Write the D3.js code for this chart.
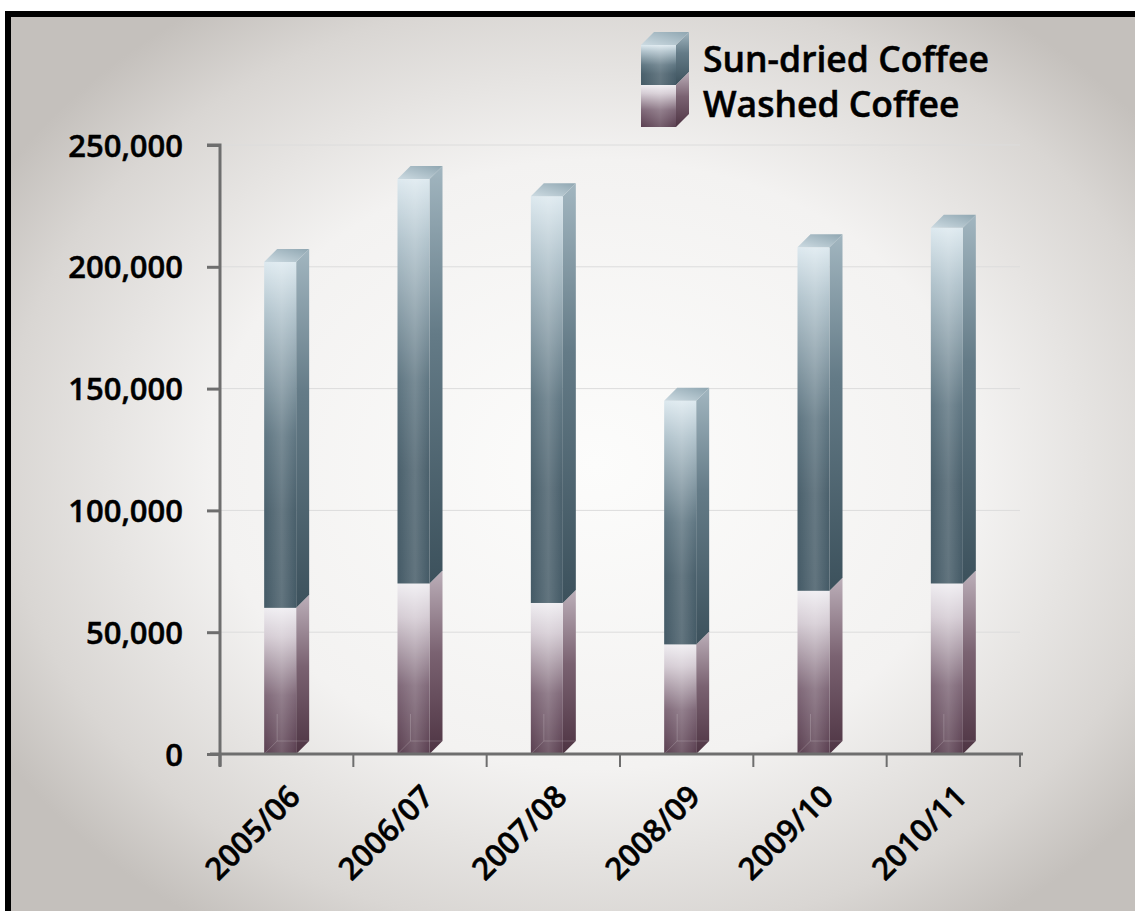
<!DOCTYPE html>
<html>
<head>
<meta charset="utf-8">
<script src="https://cdn.jsdelivr.net/npm/d3@7"></script>
<style>
  html, body { margin: 0; padding: 0; background: #ffffff; }
  svg { display: block; }
  text { font-family: "Open Sans", "Noto Sans", sans-serif; font-weight: 600; fill: #000; stroke: #000; stroke-width: 0.5px; }
</style>
</head>
<body>
<svg id="chart" width="1135" height="911"></svg>
<script>
// Coffee output by season (tonnes)
const seasons = ["2005/06", "2006/07", "2007/08", "2008/09", "2009/10", "2010/11"];
const washed = [60000, 70000, 62000, 45000, 67000, 70000];
const sunDried = [142000, 166000, 167000, 100000, 141000, 146000];
const seriesNames = ["Sun-dried Coffee", "Washed Coffee"];
const yTicks = [0, 50000, 100000, 150000, 200000, 250000];

const W = 1135, H = 911;
const svg = d3.select("#chart");
const defs = svg.append("defs");

// vignette background
const vg = defs.append("radialGradient").attr("id", "vignette")
  .attr("cx", "52%").attr("cy", "50%").attr("r", "62%");
vg.append("stop").attr("offset", "0%").attr("stop-color", "#fcfcfb");
vg.append("stop").attr("offset", "55%").attr("stop-color", "#f3f2f1");
vg.append("stop").attr("offset", "85%").attr("stop-color", "#d9d6d3");
vg.append("stop").attr("offset", "100%").attr("stop-color", "#c4c0bc");

svg.append("rect").attr("width", W).attr("height", H).attr("fill", "#ffffff");
svg.append("rect").attr("x", 11).attr("y", 17).attr("width", W - 11).attr("height", H - 17)
  .attr("fill", "url(#vignette)");
// black frame (top and left edges)
svg.append("rect").attr("x", 5).attr("y", 11).attr("width", W - 5).attr("height", 6).attr("fill", "#000");
svg.append("rect").attr("x", 5).attr("y", 11).attr("width", 6).attr("height", H - 11).attr("fill", "#000");

// gradients for each series: front, side, top
function vGrad(id, stops) {
  const g = defs.append("linearGradient").attr("id", id)
    .attr("x1", 0).attr("y1", 0).attr("x2", 0).attr("y2", 1);
  stops.forEach(s => g.append("stop").attr("offset", s[0]).attr("stop-color", s[1]));
}
vGrad("sunFront", [["0%", "#dde9ef"], ["15%", "#b2c4cd"], ["50%", "#5f7682"], ["72%", "#4a606c"], ["100%", "#445a66"]]);
vGrad("sunSide", [["0%", "#a2b6c0"], ["40%", "#647b87"], ["100%", "#3c515c"]]);
vGrad("washFront", [["0%", "#efedf1"], ["20%", "#d4cbd3"], ["60%", "#7f6878"], ["100%", "#5a3f50"]]);
vGrad("washSide", [["0%", "#bcafb9"], ["45%", "#7a6271"], ["100%", "#4e3443"]]);
const tg = defs.append("linearGradient").attr("id", "topFace")
  .attr("x1", 0).attr("y1", 1).attr("x2", 1).attr("y2", 0);
tg.append("stop").attr("offset", "0%").attr("stop-color", "#cddbe2");
tg.append("stop").attr("offset", "100%").attr("stop-color", "#8fa6b1");
// horizontal sheen over the front face
const sh = defs.append("linearGradient").attr("id", "sheen")
  .attr("x1", 0).attr("y1", 0).attr("x2", 1).attr("y2", 0);
sh.append("stop").attr("offset", "0%").attr("stop-color", "#fff").attr("stop-opacity", 0.0);
sh.append("stop").attr("offset", "55%").attr("stop-color", "#fff").attr("stop-opacity", 0.16);
sh.append("stop").attr("offset", "100%").attr("stop-color", "#fff").attr("stop-opacity", 0.0);

const plotL = 220, plotR = 1020, plotTop = 145, plotBot = 754;
const x = d3.scaleBand().domain(seasons).range([plotL, plotR]);
const y = d3.scaleLinear().domain([0, 250000]).range([plotBot, plotTop]);

const frontW = 32, depth = 13;

// gridlines
svg.append("g").selectAll("line").data(yTicks.filter(d => d > 0)).join("line")
  .attr("x1", plotL).attr("x2", plotR)
  .attr("y1", d => y(d)).attr("y2", d => y(d))
  .attr("stroke", "#dcdcdc").attr("stroke-width", 1);

// y axis
const yAxis = svg.append("g").attr("transform", `translate(${plotL},0)`)
  .call(d3.axisLeft(y).tickValues(yTicks).tickSize(13).tickPadding(24).tickFormat(d3.format(",")));
yAxis.select(".domain").attr("stroke", "#6e6e6e").attr("stroke-width", 3)
  .attr("d", `M-13,${plotTop}H0V${plotBot + 12}`);
yAxis.selectAll(".tick line").attr("stroke", "#6e6e6e").attr("stroke-width", 3);
yAxis.selectAll(".tick text").style("font-size", "31px").attr("fill", "#000").attr("dy", "0.36em");

// bars
const bars = svg.append("g");
seasons.forEach((s, i) => {
  const x0 = x(s) + (x.bandwidth() - frontW - depth) / 2;
  const segs = [
    { lo: 0, hi: washed[i], front: "washFront", side: "washSide" },
    { lo: washed[i], hi: washed[i] + sunDried[i], front: "sunFront", side: "sunSide" }
  ];
  const g = bars.append("g");
  segs.forEach((seg, k) => {
    const yt = y(seg.hi), yb = y(seg.lo);
    // side face
    g.append("path")
      .attr("d", `M${x0 + frontW},${yt}L${x0 + frontW + depth},${yt - depth}L${x0 + frontW + depth},${yb - depth}L${x0 + frontW},${yb}Z`)
      .attr("fill", `url(#${seg.side})`);
    // front face
    g.append("rect").attr("x", x0).attr("y", yt).attr("width", frontW).attr("height", yb - yt)
      .attr("fill", `url(#${seg.front})`);
    g.append("rect").attr("x", x0).attr("y", yt).attr("width", frontW).attr("height", yb - yt)
      .attr("fill", "url(#sheen)");
    if (k === segs.length - 1) {
      g.append("path")
        .attr("d", `M${x0},${yt}L${x0 + depth},${yt - depth}L${x0 + frontW + depth},${yt - depth}L${x0 + frontW},${yt}Z`)
        .attr("fill", "url(#topFace)");
    }
  });
  // faint hidden edges at the base
  g.append("path")
    .attr("d", `M${x0},${plotBot}L${x0 + depth},${plotBot - depth}H${x0 + frontW + depth}M${x0 + depth},${plotBot - depth}V${plotBot - 40}`)
    .attr("fill", "none").attr("stroke", "#ffffff").attr("stroke-opacity", 0.18).attr("stroke-width", 1);
});

// x axis
const xAxisY = plotBot;
const xg = svg.append("g");
xg.append("line").attr("x1", plotL - 10).attr("x2", plotR + 3)
  .attr("y1", xAxisY).attr("y2", xAxisY).attr("stroke", "#6e6e6e").attr("stroke-width", 3);
const tickXs = seasons.map(s => x(s)).concat([plotR]);
xg.selectAll("line.tk").data(tickXs).join("line").attr("class", "tk")
  .attr("x1", d => d).attr("x2", d => d)
  .attr("y1", xAxisY).attr("y2", xAxisY + 13)
  .attr("stroke", "#6e6e6e").attr("stroke-width", d => d === plotL ? 3 : 2);
xg.selectAll("text").data(seasons).join("text")
  .attr("transform", d => `translate(${x(d) + x.bandwidth() / 2},${xAxisY + 29}) rotate(-45)`)
  .attr("text-anchor", "end").attr("dy", "0.7em")
  .style("font-size", "31px").text(d => d);

// legend
const lg = svg.append("g");
const lx = 641, lyTop = 45, lw = 35, ld = 13;
const lMid = 85, lBot = 127;
const legendSegs = [
  { yt: lyTop, yb: lMid, front: "sunFront", side: "sunSide" },
  { yt: lMid, yb: lBot, front: "washFront", side: "washSide" }
];
legendSegs.forEach(seg => {
  lg.append("path")
    .attr("d", `M${lx + lw},${seg.yt}L${lx + lw + ld},${seg.yt - ld}L${lx + lw + ld},${seg.yb - ld}L${lx + lw},${seg.yb}Z`)
    .attr("fill", `url(#${seg.side})`);
  lg.append("rect").attr("x", lx).attr("y", seg.yt).attr("width", lw).attr("height", seg.yb - seg.yt)
    .attr("fill", `url(#${seg.front})`);
  lg.append("rect").attr("x", lx).attr("y", seg.yt).attr("width", lw).attr("height", seg.yb - seg.yt)
    .attr("fill", "url(#sheen)");
});
lg.append("path")
  .attr("d", `M${lx},${lyTop}L${lx + ld},${lyTop - ld}L${lx + lw + ld},${lyTop - ld}L${lx + lw},${lyTop}Z`)
  .attr("fill", "url(#topFace)");
lg.selectAll("text").data(seriesNames).join("text")
  .attr("x", 703).attr("y", (d, i) => 72 + i * 45)
  .style("font-size", "35.5px").text(d => d);
</script>
</body>
</html>
